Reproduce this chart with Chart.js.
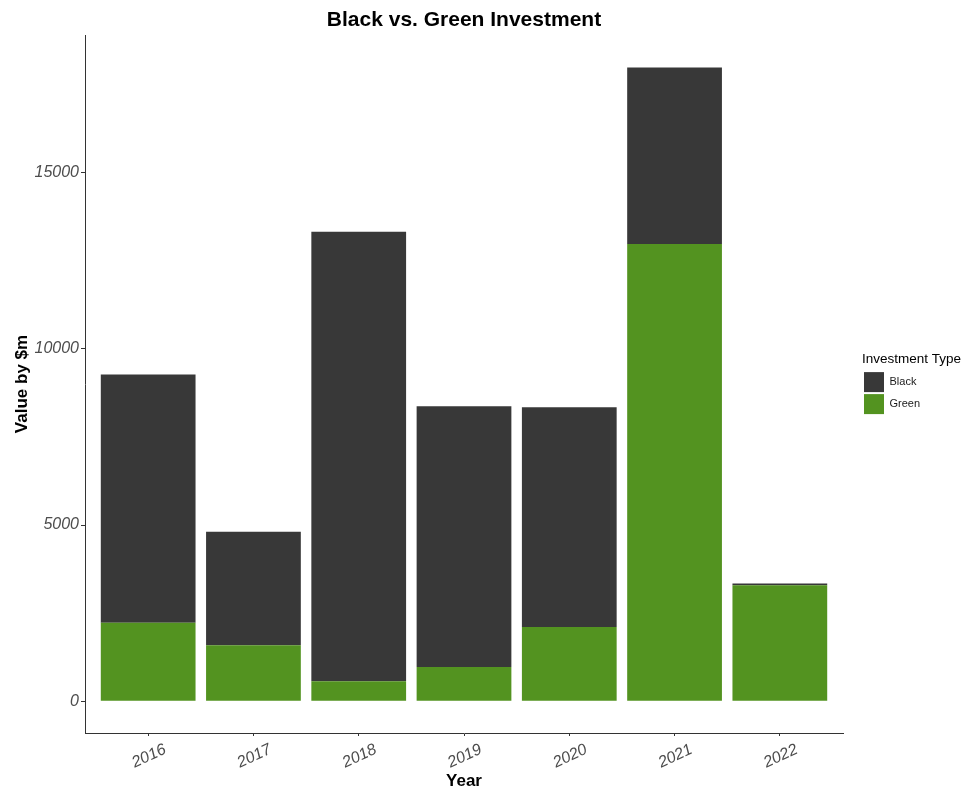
<!DOCTYPE html>
<html>
<head>
<meta charset="utf-8">
<title>Black vs. Green Investment</title>
<script src="https://cdn.jsdelivr.net/npm/chart.js@4/dist/chart.umd.min.js"></script>
<style>
    html, body { margin: 0; padding: 0; background: #ffffff; }
    #wrap { width: 978px; height: 792px; }
</style>
</head>
<body>
<div id="wrap"><canvas id="canvas" width="978" height="792"></canvas></div>
<script>
"use strict";

// values ($m)
const years = [2016, 2017, 2018, 2019, 2020, 2021, 2022];
const greenValues = [2230, 1590, 570, 970, 2110, 12970, 3290];
const blackValues = [7040, 3220, 12750, 7400, 6230, 5010, 50];
const yTicks = [0, 5000, 10000, 15000];

const FONT = "'Liberation Sans', Arial, sans-serif";
const TICK_GREY = '#4d4d4d';
const AXIS_COLOR = '#333333';
const LEGEND_WIDTH = 116; // room for the legend title, which chart.js does not measure

function toPoints(values) {
    return years.map((year, i) => ({ x: year, y: values[i] }));
}

// the legend clips to its own box, so make the box wide enough for "Investment Type"
const legendWidth = {
    id: 'legendWidth',
    beforeLayout(chart) {
        let legend = chart.legend;
        if (legend && !legend._wide) {
            let fit = legend.fit;
            legend.fit = function () {
                fit.call(this);
                this.width = Math.max(this.width, LEGEND_WIDTH);
            };
            legend._wide = true;
        }
    }
};

window.addEventListener('DOMContentLoaded', () => {
    let ctx = document.getElementById('canvas').getContext('2d');

    new Chart(ctx, {
        type: 'bar',
        data: {
            datasets: [
                {
                    label: 'Green',
                    data: toPoints(greenValues),
                    backgroundColor: '#539320',
                    borderWidth: 0,
                    barPercentage: 0.9,
                    categoryPercentage: 1
                },
                {
                    label: 'Black',
                    data: toPoints(blackValues),
                    backgroundColor: '#383838',
                    borderWidth: 0,
                    barPercentage: 0.9,
                    categoryPercentage: 1
                }
            ]
        },
        options: {
            responsive: false,
            animation: false,
            layout: { padding: 0 },
            scales: {
                x: {
                    type: 'linear',
                    stacked: true,
                    offset: false,
                    min: 2015.4,
                    max: 2022.6,
                    afterBuildTicks: axis => { axis.ticks = years.map(v => ({ value: v })); },
                    afterFit: axis => { axis.height = 59; },
                    border: { display: true, color: AXIS_COLOR, width: 1 },
                    grid: { offset: false, drawOnChartArea: false, drawTicks: true, tickLength: 3, color: AXIS_COLOR },
                    ticks: {
                        minRotation: 25,
                        maxRotation: 25,
                        labelOffset: 17,
                        padding: 4,
                        color: TICK_GREY,
                        font: { family: FONT, size: 16, style: 'italic' },
                        callback: value => String(value)
                    },
                    title: {
                        display: true,
                        text: 'Year',
                        color: '#000000',
                        padding: { top: 0, bottom: 0 },
                        font: { family: FONT, size: 17, weight: 'bold' }
                    }
                },
                y: {
                    stacked: true,
                    min: -900,
                    max: 18900,
                    afterBuildTicks: axis => { axis.ticks = yTicks.map(v => ({ value: v })); },
                    afterFit: axis => { axis.width = 85; },
                    border: { display: true, color: AXIS_COLOR, width: 1 },
                    grid: { drawOnChartArea: false, drawTicks: true, tickLength: 4, color: AXIS_COLOR },
                    ticks: {
                        padding: 2,
                        color: TICK_GREY,
                        font: { family: FONT, size: 16, style: 'italic' },
                        callback: value => String(value)
                    },
                    title: {
                        display: true,
                        text: 'Value by $m',
                        color: '#000000',
                        padding: { top: 12, bottom: 0 },
                        font: { family: FONT, size: 17, weight: 'bold' }
                    }
                },
                // empty right axis, only keeps a gap between panel and legend
                gap: {
                    type: 'linear',
                    position: 'right',
                    display: true,
                    afterFit: axis => { axis.width = 19; },
                    border: { display: false },
                    grid: { display: false },
                    ticks: { display: false }
                }
            },
            plugins: {
                title: {
                    display: true,
                    fullSize: false,
                    text: 'Black vs. Green Investment',
                    color: '#000000',
                    padding: { top: 8, bottom: 1.8 },
                    font: { family: FONT, size: 21, weight: 'bold' }
                },
                legend: {
                    position: 'right',
                    align: 'center',
                    fullSize: false,
                    reverse: true,
                    title: {
                        display: true,
                        text: 'Investment Type',
                        position: 'start',
                        color: '#000000',
                        padding: 1,
                        font: { family: FONT, size: 13.5 }
                    },
                    labels: {
                        boxWidth: 20,
                        boxHeight: 20,
                        padding: 2,
                        color: '#1a1a1a',
                        font: { family: FONT, size: 11 }
                    }
                },
                tooltip: { enabled: false }
            }
        },
        plugins: [legendWidth]
    });
});
</script>
</body>
</html>
